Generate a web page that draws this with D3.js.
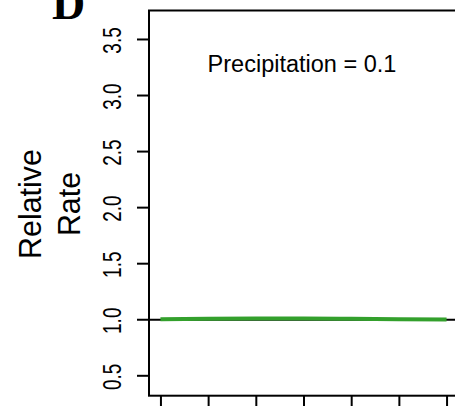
<!DOCTYPE html>
<html>
<head>
<meta charset="utf-8">
<script src="https://cdn.jsdelivr.net/npm/d3@7"></script>
<style>
html,body{margin:0;padding:0;background:#fff;}
svg{display:block;}
text{font-family:"Liberation Sans",Arial,sans-serif;}
</style>
</head>
<body>
<svg id="chart" width="455" height="406"></svg>
<script>
// ---- data ----
const panelLabel = "D";
const annotation = "Precipitation = 0.1";
const yLabelLines = ["Relative", "Rate"];
const xValues = [0, 1, 2, 3, 4, 5, 6];
const rateValues = [1.000, 1.004, 1.006, 1.006, 1.004, 1.001, 0.997];
const yTicks = [0.5, 1.0, 1.5, 2.0, 2.5, 3.0, 3.5];
const xTicks = [0, 1, 2, 3, 4, 5, 6];
const referenceLevel = 1.0;

// ---- layout ----
const svg = d3.select("#chart");
const pLeft = 149, pRight = 458, pTop = 10.5, pBottom = 395.7;

const x = d3.scaleLinear().domain([-0.24, 6.24]).range([pLeft, pRight]);
const y = d3.scaleLinear().domain([0.318, 3.754]).range([pBottom, pTop]);

// reference line at 1
svg.append("line")
  .attr("x1", pLeft).attr("x2", pRight)
  .attr("y1", y(referenceLevel)+0.6).attr("y2", y(referenceLevel)+0.6)
  .attr("stroke", "#000").attr("stroke-width", 2);

// green curve
const line = d3.line()
  .x((d, i) => x(xValues[i]))
  .y(d => y(d))
  .curve(d3.curveMonotoneX);
svg.append("path")
  .datum(rateValues)
  .attr("d", line)
  .attr("fill", "none")
  .attr("stroke", "#33a02c")
  .attr("stroke-width", 4);

// box
svg.append("rect")
  .attr("x", pLeft).attr("y", pTop)
  .attr("width", pRight - pLeft).attr("height", pBottom - pTop)
  .attr("fill", "none").attr("stroke", "#000").attr("stroke-width", 2);

// y axis
const yAxis = d3.axisLeft(y).tickValues(yTicks).tickSize(12).tickFormat(d3.format(".1f"));
const gy = svg.append("g").attr("transform", `translate(${pLeft},0)`).call(yAxis);
gy.select(".domain").remove();
gy.selectAll(".tick line").attr("stroke", "#000").attr("stroke-width", 2);
gy.selectAll(".tick text")
  .attr("x", null).attr("dy", null).attr("y", null)
  .attr("text-anchor", "middle")
  .attr("fill", "#000")
  .style("font-size", "25px")
  .attr("transform", "translate(-28,1) rotate(-90) scale(0.76,1)");

// x axis
const xAxis = d3.axisBottom(x).tickValues(xTicks).tickSize(12).tickFormat("");
const gx = svg.append("g").attr("transform", `translate(0,${pBottom})`).call(xAxis);
gx.select(".domain").remove();
gx.selectAll(".tick line").attr("stroke", "#000").attr("stroke-width", 2);

// y label
const ylab = [41, 80];
yLabelLines.forEach((t, i) => {
  svg.append("text")
    .attr("transform", `translate(${ylab[i]},204) rotate(-90) scale(0.95,1)`)
    .attr("text-anchor", "middle")
    .style("font-size", "32px")
    .attr("fill", "#000")
    .text(t);
});

// annotation
svg.append("text")
  .attr("x", 302).attr("y", 71.7)
  .attr("text-anchor", "middle")
  .style("font-size", "23.5px")
  .attr("fill", "#000")
  .text(annotation);

// panel label
svg.append("text")
  .attr("x", 52).attr("y", 19)
  .style("font-family", "'Liberation Serif','Times New Roman',serif")
  .style("font-weight", "bold")
  .style("font-size", "46px")
  .attr("fill", "#000")
  .text(panelLabel);
</script>
</body>
</html>
